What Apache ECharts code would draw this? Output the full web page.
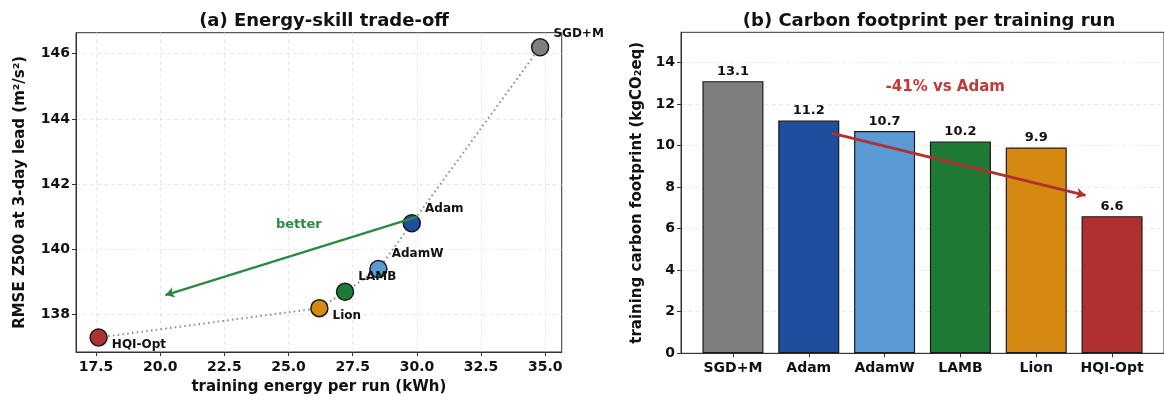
<!DOCTYPE html>
<html>
<head>
<meta charset="UTF-8">
<title>Energy and carbon</title>
<script src="https://cdn.jsdelivr.net/npm/echarts@6/dist/echarts.min.js"></script>
<style>
  html, body { margin: 0; padding: 0; background: #fff; }
  #charts { width: 1164px; height: 400px; }
</style>
</head>
<body>
<div id="charts"></div>
<script type="text/javascript">

// optimizers, in bar order
var names = ['SGD+M', 'Adam', 'AdamW', 'LAMB', 'Lion', 'HQI-Opt'];
var energy = [34.8, 29.8, 28.5, 27.2, 26.2, 17.6];          // kWh per run
var rmse = [146.2, 140.8, 139.4, 138.7, 138.2, 137.3];      // RMSE Z500 3-day lead
var carbon = [13.1, 11.2, 10.7, 10.2, 9.9, 6.6];            // kgCO2eq per run
var colors = ['#7f7f7f', '#1f4e9c', '#5b9bd5', '#1f7a35', '#d68910', '#b03030'];

var energyTicks = [17.5, 20, 22.5, 25, 27.5, 30, 32.5, 35];
var rmseTicks = [138, 140, 142, 144, 146];
var carbonTicks = [0, 2, 4, 6, 8, 10, 12, 14];
var barPos = [0, 1, 2, 3, 4, 5];

// annotations
var betterArrow = [[30.0, 141.0], [20.2, 138.6]];
var betterText = [25.4, 140.75];
var cutArrow = [[1.3, 10.6], [4.65, 7.6]];
var cutText = [2.8, 12.8];

// label offsets for scatter points (px): up for the upper group, down for the lower
var labelDy = [-13, -14, -15, -15, 8, 7];

var FONT = 'DejaVu Sans';
var INK = '#111';

function init() {
	var chart = echarts.init(document.getElementById('charts'), null, { renderer: 'canvas' });

	// dotted connector follows energy order
	var order = barPos.slice().sort(function (a, b) { return energy[a] - energy[b]; });
	var pathData = order.map(function (i) { return [energy[i], rmse[i]]; });

	var tickLabel = { fontFamily: FONT, fontWeight: 'bold', fontSize: 14, color: INK };
	var axisName = { fontFamily: FONT, fontWeight: 'bold', fontSize: 15, color: INK };
	var gridLine = { show: true, lineStyle: { color: '#e3e3e3', type: [4, 3], width: 0.8 } };
	var spine = { show: true, onZero: false, lineStyle: { color: '#333' } };

	var option = {
		animation: false,
		title: [{
			text: '(a) Energy-skill trade-off',
			left: 319, top: 7, textAlign: 'center',
			textStyle: { fontFamily: FONT, fontWeight: 'bold', fontSize: 18, color: INK }
		}, {
			text: '(b) Carbon footprint per training run',
			left: 924, top: 7, textAlign: 'center',
			textStyle: { fontFamily: FONT, fontWeight: 'bold', fontSize: 18, color: INK }
		}],
		grid: [
			{ left: 76, top: 32.7, width: 485.7, height: 320.6, show: true, borderColor: '#333', borderWidth: 1, backgroundColor: 'transparent' },
			{ left: 681, top: 32.3, width: 486.3, height: 321, show: true, borderColor: '#333', borderWidth: 1, backgroundColor: 'transparent' }
		],
		xAxis: [{
			gridIndex: 0, type: 'value', min: 16.72, max: 35.64,
			name: 'training energy per run (kWh)', nameLocation: 'middle', nameGap: 28, nameTextStyle: axisName,
			axisLine: spine,
			axisTick: { show: true, customValues: energyTicks, length: 4, lineStyle: { color: '#333' } },
			axisLabel: Object.assign({ customValues: energyTicks, margin: 8, formatter: function (v) { return v.toFixed(1); } }, tickLabel),
			splitLine: Object.assign({ customValues: energyTicks }, gridLine)
		}, {
			gridIndex: 1, type: 'value', min: -0.685, max: 5.685,
			axisLine: spine,
			axisTick: { show: true, customValues: barPos, length: 4, lineStyle: { color: '#333' } },
			axisLabel: Object.assign({ customValues: barPos, margin: 8, formatter: function (v) { return names[Math.round(v)]; } }, tickLabel),
			splitLine: { show: false }
		}],
		yAxis: [{
			gridIndex: 0, type: 'value', min: 136.855, max: 146.645,
			name: 'RMSE Z500 at 3-day lead (m²/s²)', nameLocation: 'middle', nameGap: 48, nameTextStyle: axisName,
			axisLine: spine,
			axisTick: { show: true, customValues: rmseTicks, length: 4, lineStyle: { color: '#333' } },
			axisLabel: Object.assign({ customValues: rmseTicks, margin: 6 }, tickLabel),
			splitLine: Object.assign({ customValues: rmseTicks }, gridLine)
		}, {
			gridIndex: 1, type: 'value', min: 0, max: 15.45,
			name: 'training carbon footprint (kgCO₂eq)', nameLocation: 'middle', nameGap: 36, nameTextStyle: axisName,
			axisLine: spine,
			axisTick: { show: true, customValues: carbonTicks, length: 4, lineStyle: { color: '#333' } },
			axisLabel: Object.assign({ customValues: carbonTicks, margin: 6 }, tickLabel),
			splitLine: Object.assign({ customValues: carbonTicks }, gridLine)
		}],
		series: [{
			// dotted connector
			type: 'line', xAxisIndex: 0, yAxisIndex: 0,
			data: pathData, symbol: 'none', z: 1,
			lineStyle: { color: '#8c8c8c', width: 1.9, type: [1.6, 3.2] },
			markLine: {
				silent: true, symbol: ['none', 'arrow'], symbolSize: [8, 9],
				label: { show: false },
				lineStyle: { color: '#2a8a44', width: 2.4, type: 'solid', opacity: 1 },
				data: [[{ coord: betterArrow[0] }, { coord: betterArrow[1] }]]
			}
		}, {
			type: 'scatter', xAxisIndex: 0, yAxisIndex: 0, z: 3,
			symbolSize: 17,
			itemStyle: { opacity: 1 },
			data: names.map(function (n, i) {
				return {
					name: n, value: [energy[i], rmse[i]],
					itemStyle: { color: colors[i], borderColor: '#1a1a1a', borderWidth: 1.5, opacity: 1 },
					label: { offset: [0, labelDy[i]] }
				};
			}),
			label: {
				show: true, position: 'right', distance: 4,
				formatter: '{b}', fontFamily: FONT, fontWeight: 'bold', fontSize: 12, color: INK, opacity: 1
			}
		}, {
			// "better" caption
			type: 'scatter', xAxisIndex: 0, yAxisIndex: 0, symbolSize: 0, silent: true,
			itemStyle: { opacity: 1 },
			data: [{ value: betterText }],
			label: {
				show: true, position: 'inside', formatter: 'better', opacity: 1,
				fontFamily: FONT, fontWeight: 'bold', fontSize: 13, color: '#2a8a44'
			}
		}, {
			type: 'bar', xAxisIndex: 1, yAxisIndex: 1, barWidth: 61,
			data: carbon.map(function (v, i) {
				return { value: [barPos[i], v], itemStyle: { color: colors[i], borderColor: '#1a1a1a', borderWidth: 1.2 } };
			}),
			label: {
				show: true, position: 'top', distance: 3,
				formatter: function (p) { return p.value[1].toFixed(1); },
				fontFamily: FONT, fontWeight: 'bold', fontSize: 13, color: INK
			},
			markLine: {
				silent: true, symbol: ['none', 'arrow'], symbolSize: [8, 9],
				label: { show: false },
				lineStyle: { color: '#b03030', width: 2.8, type: 'solid', opacity: 1 },
				data: [[{ coord: cutArrow[0] }, { coord: cutArrow[1] }]]
			}
		}, {
			type: 'scatter', xAxisIndex: 1, yAxisIndex: 1, symbolSize: 0, silent: true,
			itemStyle: { opacity: 1 },
			data: [{ value: cutText }],
			label: {
				show: true, position: 'inside', formatter: '-41% vs Adam', opacity: 1,
				fontFamily: FONT, fontWeight: 'bold', fontSize: 15, color: '#c0393b'
			}
		}]
	};

	chart.setOption(option);
}

window.onload = function () {
	init();
};
</script>
</body>
</html>
